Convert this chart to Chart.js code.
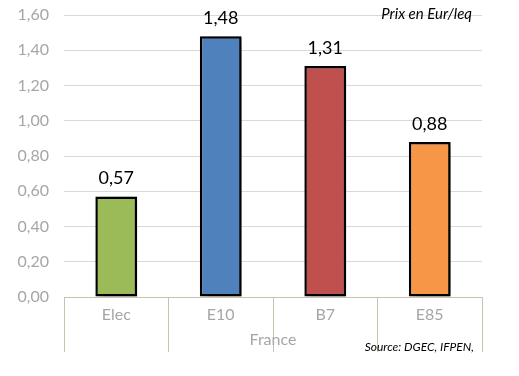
<!DOCTYPE html>
<html>
<head>
<meta charset="utf-8">
<script src="https://cdn.jsdelivr.net/npm/chart.js@4/dist/chart.umd.min.js"></script>
<style>
html,body{margin:0;padding:0;background:#fff;}
#wrap{width:519px;height:376px;position:relative;}
</style>
</head>
<body>
<div id="wrap"><canvas id="c" width="519" height="376"></canvas></div>
<script>
const categories = ['Elec', 'E10', 'B7', 'E85'];
const groupLabel = 'France';
const prices = [0.57, 1.48, 1.31, 0.88];
const barColors = ['#9BBB59', '#4F81BD', '#C0504D', '#F79646'];
const yTicks = [0, 0.2, 0.4, 0.6, 0.8, 1.0, 1.2, 1.4, 1.6];
const unitNote = 'Prix en Eur/leq';
const sourceNote = 'Source: DGEC, IFPEN,';

const fmt = v => v.toFixed(2).replace('.', ',');
const FONT = 'Lato, "Open Sans", sans-serif';

const shadowPlugin = {
  id: 'shadow',
  beforeDatasetDraw(chart) {
    const ctx = chart.ctx;
    ctx.save();
    ctx.shadowColor = 'rgba(0,0,0,0.45)';
    ctx.shadowBlur = 7;
    ctx.shadowOffsetX = 5;
    ctx.shadowOffsetY = 2;
  },
  afterDatasetDraw(chart) {
    chart.ctx.restore();
  }
};

const labelsPlugin = {
  id: 'valueLabels',
  afterDatasetsDraw(chart) {
    const ctx = chart.ctx;
    const meta = chart.getDatasetMeta(0);
    ctx.save();
    ctx.fillStyle = '#000';
    ctx.font = '18px ' + FONT;
    ctx.textAlign = 'center';
    ctx.textBaseline = 'bottom';
    meta.data.forEach((bar, i) => {
      ctx.fillText(fmt(prices[i]), bar.x, bar.y - 9);
    });
    ctx.font = 'italic 15px ' + FONT;
    ctx.textAlign = 'right';
    ctx.textBaseline = 'middle';
    ctx.fillText(unitNote, chart.chartArea.right - 10, 14);
    ctx.font = 'italic 12px ' + FONT;
    ctx.fillText(sourceNote, chart.chartArea.right - 8, 347);
    ctx.restore();
  }
};

new Chart(document.getElementById('c'), {
  type: 'bar',
  data: {
    labels: categories,
    datasets: [{
      data: prices,
      backgroundColor: barColors,
      borderColor: '#000',
      borderWidth: 2.5,
      borderSkipped: false,
      categoryPercentage: 1,
      barPercentage: 0.4
    }]
  },
  options: {
    responsive: false,
    animation: false,
    devicePixelRatio: 1,
    layout: { padding: { top: 15, right: 37, left: 0, bottom: 0 } },
    plugins: { legend: { display: false }, tooltip: { enabled: false } },
    scales: {
      y: {
        min: 0, max: 1.6,
        afterBuildTicks: s => { s.ticks = yTicks.map(v => ({ value: v })); },
        afterFit: s => { s.width = 64; s.paddingTop = 0; s.paddingBottom = 0; },
        ticks: {
          color: '#a6a6a6',
          font: { family: FONT, size: 16 },
          padding: 15,
          callback: v => fmt(v)
        },
        grid: { color: '#d9d9d9', drawTicks: false },
        border: { display: false }
      },
      x: {
        afterFit: s => { s.height = 79; s.paddingLeft = 0; s.paddingRight = 0; },
        grid: {
          offset: true,
          drawOnChartArea: false,
          tickLength: 55,
          color: '#c9c2ad'
        },
        border: { display: true, color: '#c9c2ad' },
        ticks: {
          color: '#a6a6a6',
          font: { family: FONT, size: 16 },
          padding: -47
        },
        title: {
          display: true,
          text: groupLabel,
          color: '#a6a6a6',
          font: { family: FONT, size: 16 },
          padding: { top: 27, bottom: 27 }
        }
      }
    }
  },
  plugins: [shadowPlugin, labelsPlugin]
});
</script>
</body>
</html>
